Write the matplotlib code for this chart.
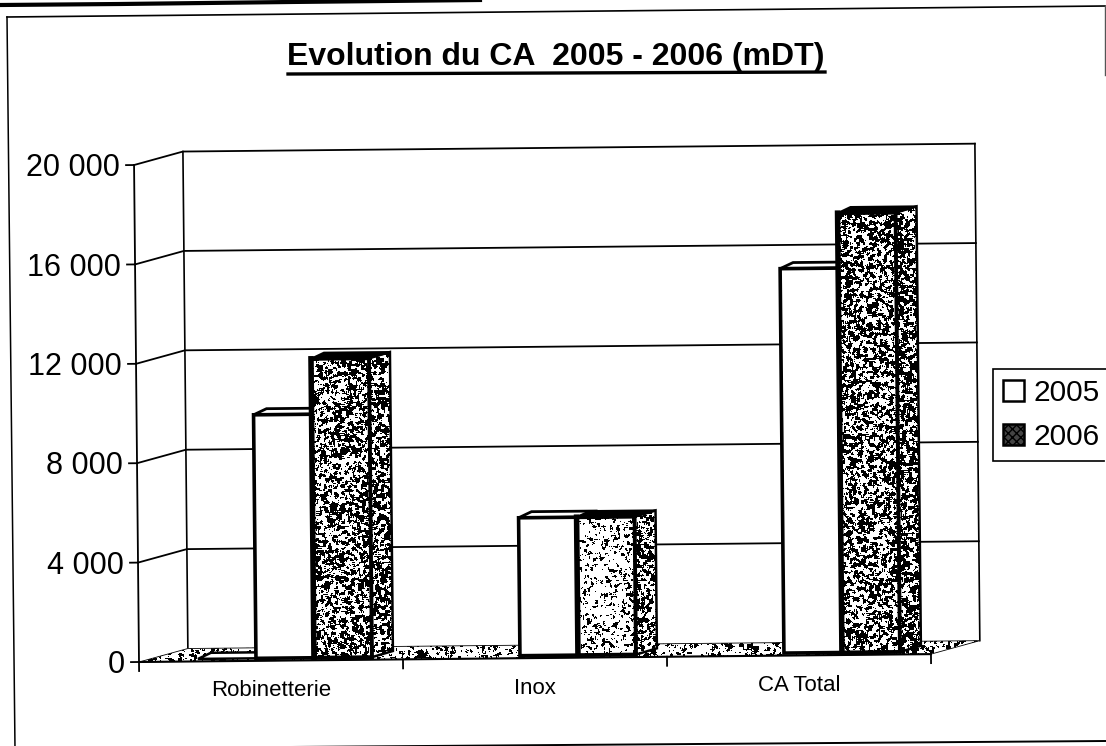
import numpy as np
import matplotlib
matplotlib.use('Agg')
import matplotlib.pyplot as plt
from matplotlib.lines import Line2D
from matplotlib.patches import Patch, Polygon
from matplotlib.transforms import Affine2D

plt.rcParams['font.family'] = ['Liberation Sans', 'DejaVu Sans']

categories = ['Robinetterie', 'Inox', 'CA Total']
series_names = ['2005', '2006']
values_2005 = [9800, 5550, 15470]
values_2006 = [12030, 5550, 17680]
y_ticks = [0, 4000, 8000, 12000, 16000, 20000]
title = 'Evolution du CA  2005 - 2006 (mDT)'

# how dark the speckled faces are, per category
front_dark = [0.50, 0.22, 0.50]
side_dark = [0.55, 0.50, 0.60]

W, H = 1106, 746
CAT_PX = 264.0
VAL_PX = 497.0 / 20000
X0, Y0 = 139.0, 662.0  # pixel position of the corner of the axes
TILT = 0.57  # the page is scanned slightly crooked

fig = plt.figure(figsize=(W / 100, H / 100), dpi=100)
ax = fig.add_axes([0, 0, 1, 1])
ax.set_xlim(-X0 / CAT_PX, (W - X0) / CAT_PX)
ax.set_ylim(-(H - Y0) / VAL_PX, Y0 / VAL_PX)
ax.axis('off')
tr = ax.transData + Affine2D().rotate_deg_around(X0, H - Y0, TILT)

ux = 1 / CAT_PX  # one pixel in data units
uy = 1 / VAL_PX
wall_dx, wall_dy = 49 * ux, 13 * uy
bar_w = 58 * ux
group_off = 43 * ux
lift = 2.5 * uy


def fig_line(xs, ys, **kw):
    fig.add_artist(Line2D([x / W for x in xs], [1 - y / H for y in ys], **kw))


def grain(h, w, seed):
    yy, xx = np.mgrid[0:h, 0:w]
    v = np.sin(xx * 12.9898 + yy * 78.233 + seed) * 43758.5453
    v = v - np.floor(v)
    out = np.zeros_like(v)
    for dy in range(3):
        for dx in range(3):
            out += np.roll(np.roll(v, dy, 0), dx, 1)
    return out / 9


def speckle(points, dark, z, seed=1.0):
    # black and white grain, cut to the shape of a face
    pts = np.array(points)
    x0, y0 = pts.min(axis=0) - [12 * ux, 12 * uy]
    x1, y1 = pts.max(axis=0) + [12 * ux, 12 * uy]
    w = int((x1 - x0) / ux)
    h = int((y1 - y0) / uy)
    g = grain(h, w, seed + x0 * 7)
    img = (g > np.quantile(g, dark)).astype(float)
    im = ax.imshow(img, extent=[x0, x1, y0, y1], origin='lower', cmap='gray', vmin=0, vmax=1,
                   aspect='auto', interpolation='nearest', zorder=z)
    im.set_clip_path(Polygon(pts, closed=True, transform=tr))


# walls and grid
for v in y_ticks[1:]:
    ax.plot([0, wall_dx, 3 + wall_dx], [v, v + wall_dy, v + wall_dy], color='black', lw=1.3, transform=tr, zorder=1)
ax.plot([wall_dx, wall_dx], [wall_dy, 20000 + wall_dy], color='black', lw=1.2, transform=tr, zorder=1)
ax.plot([3 + wall_dx, 3 + wall_dx], [wall_dy, 20000 + wall_dy], color='black', lw=1.2, transform=tr, zorder=1)

# floor
floor = [(0, 0), (3, 0), (3 + wall_dx, wall_dy), (wall_dx, wall_dy)]
ax.add_patch(Polygon(floor, closed=True, facecolor='white', edgecolor='none', transform=tr, zorder=1.5))
speckle(floor, 0.30, 1.6, seed=5.0)
ax.add_patch(Polygon(floor, closed=True, facecolor='none', edgecolor='black', lw=0.6, transform=tr, zorder=1.7))

# front axes and ticks
ax.plot([0, 0], [0, 20000], color='black', lw=1.3, transform=tr, zorder=2)
ax.plot([0, 3], [0, 0], color='black', lw=1.5, transform=tr, zorder=2)
for v in y_ticks:
    ax.plot([-8 * ux, 0], [v, v], color='black', lw=1.3, transform=tr, zorder=2)
    ax.text(-14 * ux, v - 3 * uy, f'{v:,}'.replace(',', ' '), ha='right', va='center', fontsize=22,
            color='black', transform=tr)
for i in range(4):
    ax.plot([i, i], [0, -9 * uy], color='black', lw=1.3, transform=tr, zorder=2)
for i, name in enumerate(categories):
    ax.text(i + 0.5, -30 * uy, name, ha='center', va='center', fontsize=16, color='black', transform=tr)

# bars
pos = np.arange(len(categories)) + 0.5 + group_off
left_2005 = pos - bar_w
left_2006 = pos
back_l, back_r, back_up = 13 * ux, 21 * ux, 6 * uy

# flat empty bar left of the first group
x = left_2005[0] - bar_w
flat = [(x, lift), (x + bar_w, lift), (x + bar_w + back_r, lift + back_up), (x + back_l, lift + back_up)]
ax.add_patch(Polygon(flat, closed=True, facecolor='white', edgecolor='black', lw=1.8, transform=tr, zorder=2.5))

for i in range(len(categories)):
    # 2005 has only its top showing, 2006 hides the side
    x, v = left_2005[i], values_2005[i] + lift
    top = [(x, v), (x + bar_w, v), (x + bar_w + back_r, v + back_up), (x + back_l, v + back_up)]
    ax.add_patch(Polygon(top, closed=True, facecolor='white', edgecolor='black', lw=2, transform=tr, zorder=3))

    x, v = left_2006[i], values_2006[i] + lift
    front = [(x, lift), (x + bar_w, lift), (x + bar_w, v), (x, v)]
    side = [(x + bar_w, lift), (x + bar_w + back_r, lift + back_up), (x + bar_w + back_r, v + back_up), (x + bar_w, v)]
    top = [(x, v), (x + bar_w, v), (x + bar_w + back_r, v + back_up), (x + back_l, v + back_up)]
    speckle(front, front_dark[i], 4.0, seed=i + 1.5)
    speckle(side, side_dark[i], 4.0, seed=i + 9.5)
    ax.add_patch(Polygon(side, closed=True, facecolor='none', edgecolor='black', lw=1.8, transform=tr, zorder=4.2))
    ax.add_patch(Polygon(top, closed=True, facecolor='black', edgecolor='black', lw=1.5, transform=tr, zorder=4.2))
    # heavy left edge of the dark bar
    ax.plot([x, x], [lift, v], color='black', lw=4, transform=tr, zorder=4.4)

ax.bar(left_2005, values_2005, bar_w, bottom=lift, align='edge', color='white', edgecolor='black', lw=2.6,
       transform=tr, zorder=3.5)
ax.bar(left_2006, values_2006, bar_w, bottom=lift, align='edge', color='none', edgecolor='black', lw=2.8,
       transform=tr, zorder=4.3)

ax.set_xlim(-X0 / CAT_PX, (W - X0) / CAT_PX)
ax.set_ylim(-(H - Y0) / VAL_PX, Y0 / VAL_PX)

# title
fig.text(556 / W, 1 - 57 / H, title, ha='center', va='center', fontsize=23, fontweight='bold', color='black')
fig_line([288, 825], [74, 72], color='black', lw=2.4)

# legend, runs off the right edge like the scan
handles = [Patch(facecolor='white', edgecolor='black', lw=1.8),
           Patch(facecolor='#444444', edgecolor='black', lw=1.8, hatch='xxxx')]
leg = ax.legend(handles, series_names, loc='upper left', bbox_to_anchor=(993 / W, 1 - 369 / H),
                bbox_transform=fig.transFigure, fontsize=21.5, frameon=True, fancybox=False, framealpha=1,
                edgecolor='black', borderaxespad=0, borderpad=0.33, labelspacing=0.55, handlelength=0.72,
                handleheight=0.72, handletextpad=0.3)
leg.get_frame().set_linewidth(1.2)
fig_line([1105.5, 1105.5], [375, 462], color='white', lw=1.6, zorder=10)

# chart frame and the black band at the top of the page
fig_line([7, 1105], [17, 6], color='black', lw=1.2)
fig_line([7, 15], [17, 749], color='black', lw=1.1)
fig_line([1105, 1105], [6, 75], color='#555555', lw=1.0)
fig_line([15, 1106], [749, 741], color='black', lw=1.4)
fig_line([0, 120, 290, 480], [5, 4, 2, 0], color='black', lw=3.0)

fig.savefig('out.png', dpi=100)
